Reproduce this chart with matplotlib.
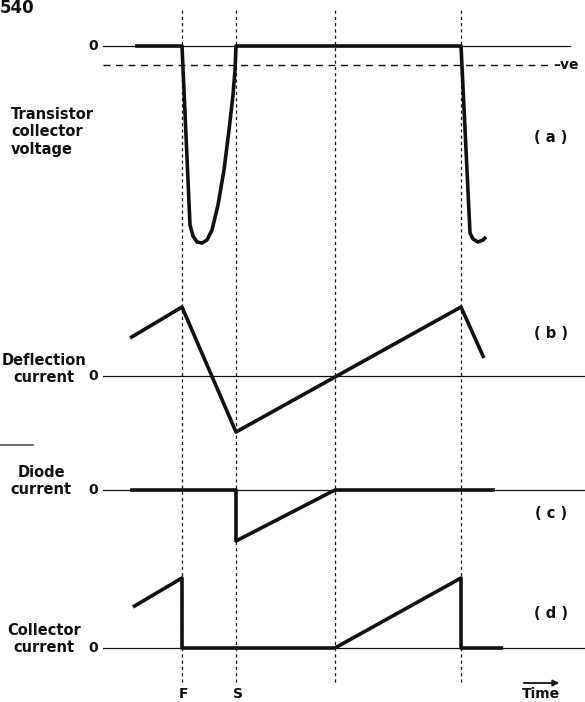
import numpy as np
import matplotlib.pyplot as plt

# time axis: flyback start F = 0, next flyback = 1
t_F, t_S, t_X, t_F2 = 0.0, 0.1935, 0.548, 1.0

# (a) transistor collector voltage
va_t = [-0.168, 0.0, 0.0287, 0.0394, 0.0538, 0.0717, 0.0896, 0.1075, 0.129,
        0.1505, 0.1685, 0.1828, 0.190, 0.1935, 1.0, 1.0323, 1.043, 1.0609,
        1.0789, 1.0896]
va_v = [0, 0, -17.9, -19.0, -19.6, -19.7, -19.4, -18.4, -15.9,
        -12.4, -8.4, -4.9, -2.4, 0, 0, -18.7, -19.3, -19.6,
        -19.4, -19.1]
ve_level = -1.9

# (b) deflection current
ib_t = [-0.186, 0.0, 0.1935, 1.0, 1.082]
ib_v = [3.8, 6.9, -5.6, 6.9, 1.8]

# (c) diode current
ic_t = [-0.186, 0.1935, 0.1935, 0.548, 1.122]
ic_v = [0, 0, -5.1, 0, 0]

# (d) collector current
id_t = [-0.176, 0.0, 0.0, 0.548, 1.0, 1.0, 1.151]
id_v = [4.1, 7.0, 0, 0, 7.0, 0, 0]

baselines = {'a': 65.6, 'b': 32.6, 'c': 21.2, 'd': 5.4}

fig = plt.figure(figsize=(5.85, 7.02), dpi=100)
ax = fig.add_axes([0, 0, 1, 1])
ax.set_xlim(-0.6523, 1.4444)
ax.set_ylim(0, 70.2)
ax.axis('off')

ink = '#111111'
font = dict(family='DejaVu Sans', color=ink, fontweight='bold')

# thin zero lines
ax.plot([-0.283, 1.391], [baselines['a']] * 2, color=ink, lw=0.9)
for k in 'bcd':
    ax.plot([-0.283, 1.444], [baselines[k]] * 2, color=ink, lw=0.9)

# -ve reference level
ax.plot([-0.283, 1.312], [baselines['a'] + ve_level] * 2, color=ink,
        lw=1.0, linestyle=(0, (5, 4)))

# vertical timing markers
for tv in [t_F, t_S, t_X, t_F2]:
    ax.plot([tv, tv], [2.0, 69.2], color=ink, lw=0.9, linestyle=(0, (2.5, 2.5)))

# waveforms
thick = dict(color=ink, lw=2.6, solid_joinstyle='round', solid_capstyle='butt')
ax.plot(va_t, np.array(va_v) + baselines['a'], **thick)
ax.plot(ib_t, np.array(ib_v) + baselines['b'], **thick)
ax.plot(ic_t, np.array(ic_v) + baselines['c'], **thick)
ax.plot(id_t, np.array(id_v) + baselines['d'], **thick)

# stray rule at left edge
ax.plot([-0.6523, -0.534], [25.7, 25.7], color='#555555', lw=1.2)

# labels
ax.text(-0.6523, 69.4, '540', fontsize=12, ha='left', va='center', **font)
for k in 'abcd':
    ax.text(-0.319, baselines[k], '0', fontsize=10, ha='center', va='center', **font)
ax.text(1.376, baselines['a'] + ve_level, '\u2013ve', fontsize=10, ha='center', va='center', **font)

ax.text(-0.612, 57.0, 'Transistor\ncollector\nvoltage', fontsize=10.5, ha='left',
        va='center', linespacing=1.2, **font)
ax.text(-0.495, 33.3, 'Deflection\ncurrent', fontsize=10.5, ha='center',
        va='center', linespacing=1.15, **font)
ax.text(-0.505, 22.1, 'Diode\ncurrent', fontsize=10.5, ha='center',
        va='center', linespacing=1.15, **font)
ax.text(-0.495, 6.3, 'Collector\ncurrent', fontsize=10.5, ha='center',
        va='center', linespacing=1.15, **font)

for lab, yy in [('(a)', 56.5), ('(b)', 36.9), ('(c)', 18.9), ('(d)', 8.9)]:
    ax.text(1.323, yy, lab.replace('(', '( ').replace(')', ' )'), fontsize=10.5,
            ha='center', va='center', **font)

ax.text(0.0036, 0.75, 'F', fontsize=10, ha='center', va='center', **font)
ax.text(0.2, 0.75, 'S', fontsize=10, ha='center', va='center', **font)
ax.text(1.287, 0.8, 'Time', fontsize=10, ha='center', va='center', **font)
ax.annotate('', xy=(1.362, 1.9), xytext=(1.215, 1.9),
            arrowprops=dict(arrowstyle='-|>', color=ink, lw=1.3,
                            mutation_scale=9))

fig.savefig('out.png', dpi=100)
